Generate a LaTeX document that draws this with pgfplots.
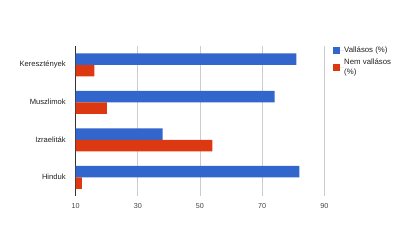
\documentclass[border=0pt]{standalone}
\usepackage{pgfplots}
\pgfplotsset{compat=1.18}
\usepackage{fontspec}
\setmainfont{Liberation Sans}
\definecolor{gblue}{HTML}{3366CC}
\definecolor{gred}{HTML}{DC3912}
\definecolor{ggrid}{HTML}{CCCCCC}
\definecolor{gtext}{HTML}{222222}
\definecolor{gtick}{HTML}{444444}
\definecolor{gaxis}{HTML}{333333}
\begin{document}
\begin{tikzpicture}[x=1pt,y=1pt]
\path[use as bounding box] (0,0) rectangle (400,242);
\begin{axis}[
 at={(75.7pt,46pt)}, anchor=south west,
 scale only axis, width=248.6pt, height=150pt,
 xmin=10, xmax=90, ymin=-0.5, ymax=3.5,
 enlargelimits=false,
 xbar, bar width=11.5pt,
 xtick={10,30,50,70,90},
 ytick={0,1,2,3}, yticklabels={Hinduk,Izraeliták,Muszlimok,Keresztények},
 axis line style={draw=none},
 major tick length=0pt,
 xmajorgrids, major grid style={ggrid, line width=0.8pt},
 extra x ticks={10}, extra x tick labels={},
 extra x tick style={major grid style={gaxis, line width=0.8pt}},
 /pgf/number format/assume math mode=true,
 xticklabel style={font=\fontsize{7.2}{8}\selectfont, text=gtick, yshift=-4pt},
 yticklabel style={font=\fontsize{7.6}{9}\selectfont, text=gtext, xshift=-6.5pt},
 legend style={at={(1.036,0.996)}, anchor=north west, draw=none, fill=none,
   inner sep=0pt, outer sep=0pt, row sep=5pt,
   font=\fontsize{7.8}{10}\selectfont, text=gtext,
   nodes={inner sep=0pt, align=left}},
 legend cell align=left,
 sq/.style={legend image code/.code={\fill[##1] (0pt,-3.5pt) rectangle (7pt,3.5pt); \path (0pt,0pt) -- (11pt,0pt);}},
]
\addplot[fill=gblue, draw=none, bar shift=5.75pt, sq] coordinates {(82,0) (38,1) (74,2) (81,3)};
\addplot[fill=gred, draw=none, bar shift=-5.75pt, sq] coordinates {(12,0) (54,1) (20,2) (16,3)};
\legend{Vallásos (\%), Nem vallásos\\(\%)}
\end{axis}
\end{tikzpicture}
\end{document}
